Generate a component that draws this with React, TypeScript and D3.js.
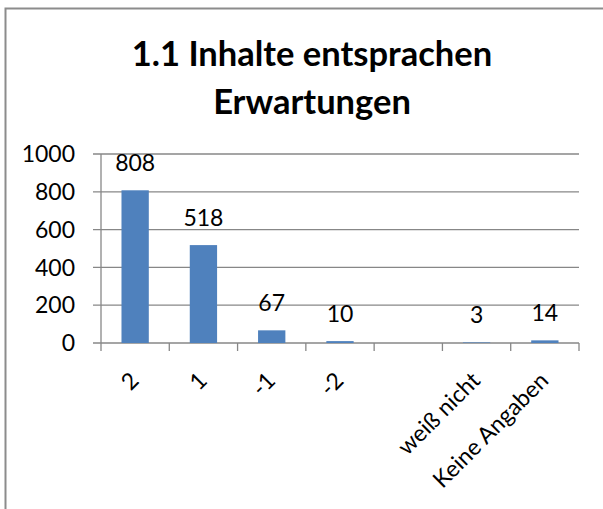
import React from "react";
import * as d3 from "d3";

const categories = ["2", "1", "-1", "-2", "", "weiß nicht", "Keine Angaben"];
const values: (number | null)[] = [808, 518, 67, 10, null, 3, 14];
const yTicks = [0, 200, 400, 600, 800, 1000];
const titleLines = ["1.1 Inhalte entsprachen", "Erwartungen"];

export default function App() {
  const W = 603, H = 509;
  const left = 101, right = 579, top = 154, bottom = 343;
  const x = d3.scaleBand<number>().domain(d3.range(categories.length)).range([left, right]).paddingInner(0).paddingOuter(0);
  const y = d3.scaleLinear().domain([0, 1000]).range([bottom, top]);
  const bw = x.bandwidth() * 0.4;
  const font = "Lato, 'Open Sans', sans-serif";
  const grid = "#878787";
  const fs = 23;
  return (
    <svg width={W} height={H} style={{ position: "absolute", left: 0, top: 0 }} fontFamily={font}>
      <rect x={0} y={0} width={W} height={H} fill="#fff" />
      <path d={`M5.5,${H} V8.5 H${W}`} fill="none" stroke="#8c8c8c" strokeWidth={2} />
      {titleLines.map((t, i) => (
        <text key={i} x={312} y={66 + i * 48} textAnchor="middle" fontWeight="bold" fontSize={34.5} fill="#000">{t}</text>
      ))}
      {yTicks.map((t) => (
        <g key={t}>
          <line x1={left - 8} x2={right} y1={y(t)} y2={y(t)} stroke={grid} strokeWidth={1.3} />
          <text x={75} y={y(t)} dy="0.36em" textAnchor="end" fontSize={fs} fill="#000">{t}</text>
        </g>
      ))}
      <line x1={left} x2={left} y1={top} y2={bottom} stroke={grid} strokeWidth={1.3} />
      {d3.range(categories.length + 1).map((i) => {
        const xx = i < categories.length ? (x(i) as number) : right;
        return <line key={i} x1={xx} x2={xx} y1={bottom} y2={bottom + 8} stroke={grid} strokeWidth={1.3} />;
      })}
      {values.map((v, i) => {
        if (v == null) return null;
        const cx = (x(i) as number) + x.bandwidth() / 2;
        return (
          <g key={i}>
            <rect x={cx - bw / 2} y={y(v)} width={bw} height={bottom - y(v)} fill="#4F81BD" />
            <text x={cx} y={y(v) - 19} textAnchor="middle" fontSize={fs} fill="#000">{v}</text>
          </g>
        );
      })}
      {categories.map((c, i) => {
        const cx = (x(i) as number) + x.bandwidth() / 2 + 5;
        return (
          <text key={i} x={cx} y={382} transform={`rotate(-45 ${cx} 382)`} textAnchor="end" fontSize={fs} fill="#000">{c}</text>
        );
      })}
    </svg>
  );
}
